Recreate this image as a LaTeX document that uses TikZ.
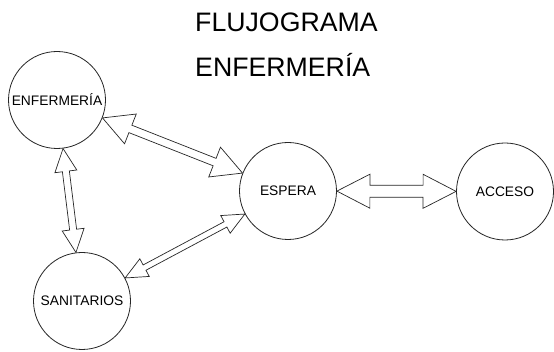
\documentclass[tikz,border=0pt]{standalone}
\usepackage{fontspec}
\setmainfont{Liberation Sans}
\usepackage{tikz}
\usetikzlibrary{calc}
\tikzset{
    station/.style={draw=black!85, circle, line width=0.8pt, minimum size=97pt, inner sep=0pt, fill=white, font=\fontsize{13.8}{16}\selectfont},
    blockarrow/.style={draw=black!85, line width=0.7pt, line join=miter, fill=white},
    titletext/.style={anchor=base west, inner sep=0pt, font=\fontsize{26.7}{32}\selectfont},
}
% #1, #2 nodes; #3 head length, #4 head half width, #5 shaft half width
\newcommand{\twoway}[5]{
    \path (#1) -- (#2) coordinate[pos=0] (s) coordinate[pos=1] (e);
    \draw[blockarrow] (s)
        -- ($(s)!#3!(e)!#4!90:(e)$)
        -- ($(s)!#3!(e)!#5!90:(e)$)
        -- ($(e)!#3!(s)!#5!-90:(s)$)
        -- ($(e)!#3!(s)!#4!-90:(s)$)
        -- (e)
        -- ($(e)!#3!(s)!#4!90:(s)$)
        -- ($(e)!#3!(s)!#5!90:(s)$)
        -- ($(s)!#3!(e)!#5!-90:(e)$)
        -- ($(s)!#3!(e)!#4!-90:(e)$)
        -- cycle;
}
\begin{document}
\begin{tikzpicture}[x=1pt, y=-1pt]
    \useasboundingbox[fill=white] (0,0) rectangle (554,352);

    \node[titletext] (title1) at (195,32) {FLUJOGRAMA};
    \node[titletext] (title2) at (195,77) {ENFERMERÍA};

    \node[station] (enfermeria) at (57,100) {ENFERMERÍA};
    \node[station] (espera) at (288,191) {ESPERA};
    \node[station] (acceso) at (505,191.5) {ACCESO};
    \node[station] (sanitarios) at (82,301) {SANITARIOS};

    \twoway{enfermeria}{espera}{30pt}{16pt}{4pt}
    \twoway{enfermeria}{sanitarios}{23pt}{11pt}{3.5pt}
    \twoway{espera}{sanitarios}{22pt}{10pt}{3pt}
    \twoway{espera}{acceso}{33pt}{17pt}{6pt}
\end{tikzpicture}
\end{document}
